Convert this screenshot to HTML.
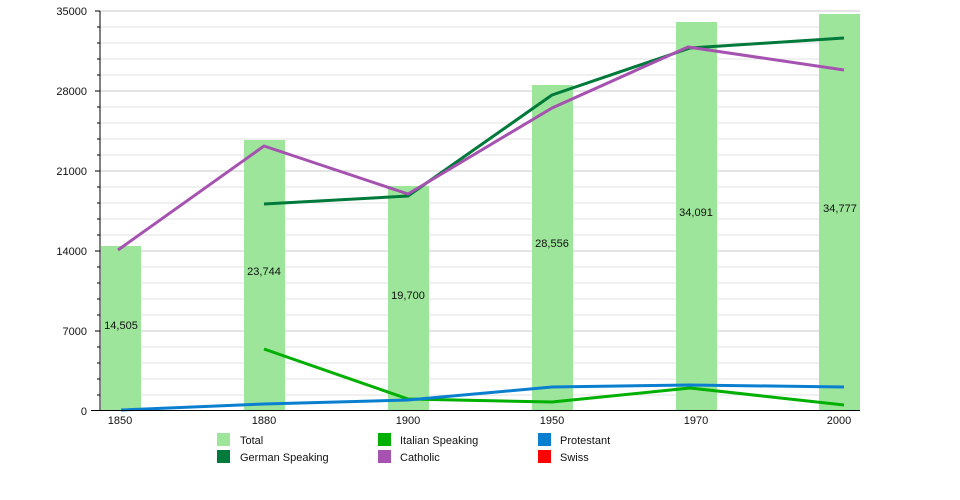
<!DOCTYPE html>
<html><head><meta charset="utf-8"><style>
body{margin:0;background:#fff;}
svg{display:block;font-family:"Liberation Sans",sans-serif;}
</style></head><body>
<svg width="960" height="500" viewBox="0 0 960 500">
<g stroke="#e2e2e2" stroke-width="1">
<line x1="100" x2="860" y1="27" y2="27"/><line x1="100" x2="860" y1="43" y2="43"/><line x1="100" x2="860" y1="59" y2="59"/><line x1="100" x2="860" y1="75" y2="75"/>
<line x1="100" x2="860" y1="107" y2="107"/><line x1="100" x2="860" y1="123" y2="123"/><line x1="100" x2="860" y1="139" y2="139"/><line x1="100" x2="860" y1="155" y2="155"/>
<line x1="100" x2="860" y1="187" y2="187"/><line x1="100" x2="860" y1="203" y2="203"/><line x1="100" x2="860" y1="219" y2="219"/><line x1="100" x2="860" y1="235" y2="235"/>
<line x1="100" x2="860" y1="267" y2="267"/><line x1="100" x2="860" y1="283" y2="283"/><line x1="100" x2="860" y1="299" y2="299"/><line x1="100" x2="860" y1="315" y2="315"/>
<line x1="100" x2="860" y1="347" y2="347"/><line x1="100" x2="860" y1="363" y2="363"/><line x1="100" x2="860" y1="379" y2="379"/><line x1="100" x2="860" y1="395" y2="395"/>
</g>
<g stroke="#c8c8c8" stroke-width="1">
<line x1="100" x2="860" y1="11" y2="11"/><line x1="100" x2="860" y1="91" y2="91"/><line x1="100" x2="860" y1="171" y2="171"/><line x1="100" x2="860" y1="251" y2="251"/><line x1="100" x2="860" y1="331" y2="331"/>
</g>
<g fill="#9de59a">
<rect x="101" y="246" width="40" height="164"/>
<rect x="244" y="140" width="41" height="270"/>
<rect x="388" y="186" width="41" height="224"/>
<rect x="532" y="85" width="41" height="325"/>
<rect x="676" y="22" width="41" height="388"/>
<rect x="819" y="14" width="41" height="396"/>
</g>
<g font-size="11" fill="#111" text-anchor="middle">
<text x="121" y="329">14,505</text>
<text x="264" y="275">23,744</text>
<text x="408" y="299">19,700</text>
<text x="552" y="247">28,556</text>
<text x="696" y="216">34,091</text>
<text x="840" y="212">34,777</text>
</g>
<g fill="none" stroke-width="3" stroke-linejoin="round">
<polyline stroke="#00b000" points="264,349 408,399 552,402 690,388 844,405"/>
<polyline stroke="#0a7fd0" points="121,410 264,404 408,400 552,387 690,385 844,387"/>
<polyline stroke="#007a3a" points="264,204 408,196 552,95 690,48 844,38"/>
<polyline stroke="#a552b0" points="118,250 264,146 408,194 552,108 688,47 844,70"/>
</g>
<g stroke="#000" stroke-width="1">
<line x1="100" x2="100" y1="11" y2="410"/>
<line x1="91" x2="860" y1="410.5" y2="410.5"/>
<line x1="95" x2="100" y1="11" y2="11"/><line x1="97" x2="100" y1="27" y2="27"/><line x1="97" x2="100" y1="43" y2="43"/><line x1="97" x2="100" y1="59" y2="59"/><line x1="97" x2="100" y1="75" y2="75"/>
<line x1="95" x2="100" y1="91" y2="91"/><line x1="97" x2="100" y1="107" y2="107"/><line x1="97" x2="100" y1="123" y2="123"/><line x1="97" x2="100" y1="139" y2="139"/><line x1="97" x2="100" y1="155" y2="155"/>
<line x1="95" x2="100" y1="171" y2="171"/><line x1="97" x2="100" y1="187" y2="187"/><line x1="97" x2="100" y1="203" y2="203"/><line x1="97" x2="100" y1="219" y2="219"/><line x1="97" x2="100" y1="235" y2="235"/>
<line x1="95" x2="100" y1="251" y2="251"/><line x1="97" x2="100" y1="267" y2="267"/><line x1="97" x2="100" y1="283" y2="283"/><line x1="97" x2="100" y1="299" y2="299"/><line x1="97" x2="100" y1="315" y2="315"/>
<line x1="95" x2="100" y1="331" y2="331"/><line x1="97" x2="100" y1="347" y2="347"/><line x1="97" x2="100" y1="363" y2="363"/><line x1="97" x2="100" y1="379" y2="379"/><line x1="97" x2="100" y1="395" y2="395"/>
</g>
<g font-size="11" fill="#111" text-anchor="end">
<text x="87" y="15">35000</text><text x="87" y="95">28000</text><text x="87" y="175">21000</text><text x="87" y="255">14000</text><text x="87" y="335">7000</text><text x="87" y="415">0</text>
</g>
<g font-size="11" fill="#111" text-anchor="middle">
<text x="120" y="424">1850</text><text x="264" y="424">1880</text><text x="408" y="424">1900</text><text x="552" y="424">1950</text><text x="696" y="424">1970</text><text x="839" y="424">2000</text>
</g>
<g font-size="11" fill="#111">
<rect x="217" y="433" width="13" height="13" fill="#9de59a"/><text x="240" y="444">Total</text>
<rect x="217" y="450" width="13" height="13" fill="#007a3a"/><text x="240" y="461">German Speaking</text>
<rect x="378" y="433" width="13" height="13" fill="#00b000"/><text x="400" y="444">Italian Speaking</text>
<rect x="378" y="450" width="13" height="13" fill="#a552b0"/><text x="400" y="461">Catholic</text>
<rect x="538" y="433" width="13" height="13" fill="#0a7fd0"/><text x="560" y="444">Protestant</text>
<rect x="538" y="450" width="13" height="13" fill="#ff0000"/><text x="560" y="461">Swiss</text>
</g>
</svg>
</body></html>
